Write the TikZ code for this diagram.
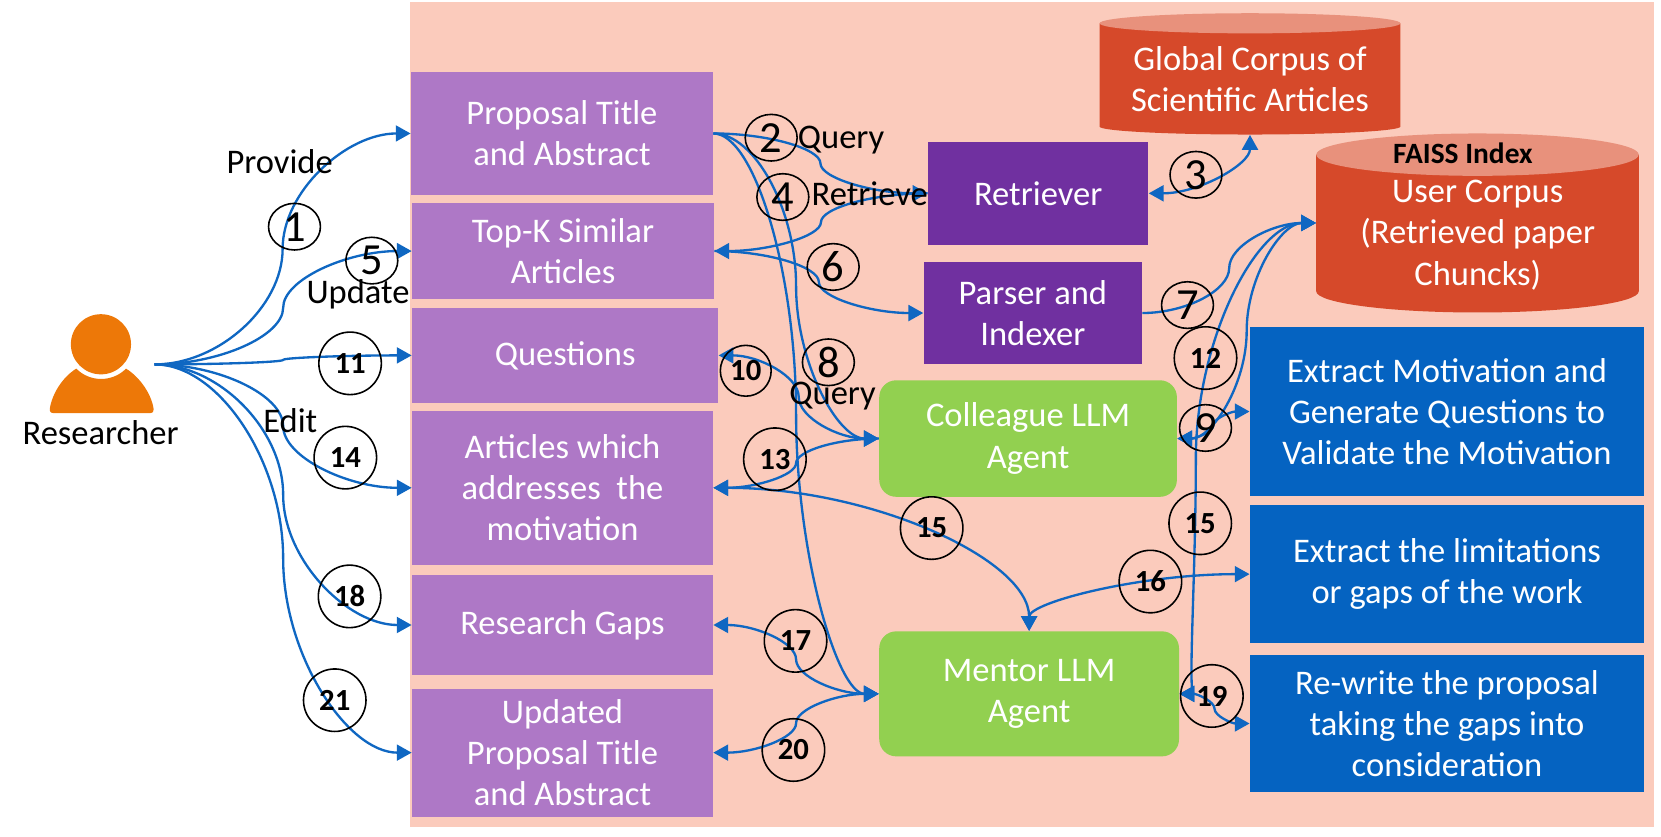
\documentclass[tikz,border=0pt]{standalone}
\usepackage{fontspec}
\setmainfont{Carlito}
\usetikzlibrary{arrows.meta,calc,shapes.geometric}
\definecolor{lineblue}{HTML}{0F67C2}
\definecolor{bgpink}{HTML}{FBCBBC}
\definecolor{lightpurple}{HTML}{AE78C6}
\definecolor{darkpurple}{HTML}{7030A0}
\definecolor{agentgreen}{HTML}{92D050}
\definecolor{taskblue}{HTML}{0563C1}
\definecolor{personorange}{HTML}{ED7808}
\definecolor{cylred}{HTML}{D6492A}
\definecolor{cyltop}{HTML}{E8917C}
\tikzset{
  link/.style={draw=lineblue,line width=1.1pt},
  tip/.style={link,-{Triangle[length=7pt,width=7.5pt]}},
  tips/.style={link,{Triangle[length=7pt,width=7.5pt]}-{Triangle[length=7pt,width=7.5pt]}},
  boxtext/.style={text=white,align=center,font=\fontsize{16.3}{19.5}\selectfont,inner sep=0pt},
  inputbox/.style={boxtext,fill=lightpurple},
  darkbox/.style={boxtext,fill=darkpurple},
  agentbox/.style={boxtext,fill=agentgreen,rounded corners=8pt},
  taskbox/.style={boxtext,fill=taskblue},
  biglabel/.style={font=\fontsize{16.3}{19}\selectfont,text=black,inner sep=0pt},
  thin num/.style={draw=black,line width=.75pt,ellipse,minimum width=24.5pt,minimum height=22pt,inner sep=0pt,font=\fontsize{21}{21}\selectfont},
  bold num/.style={draw=black,line width=.75pt,circle,minimum size=29.5pt,inner sep=0pt,font=\fontsize{14.5}{14.5}\selectfont\bfseries},
}
\newcommand{\conn}[4][tip]{%
  \coordinate (cm) at ($(#2)!#4!(#3)$);
  \coordinate (q1) at ($(#2)!.25!(#3)$);
  \coordinate (q2) at ($(#2)!.5!(#3)$);
  \coordinate (q3) at ($(#2)!.75!(#3)$);
  \draw[#1] (#2) .. controls ($(#2)!.5!(cm|-#2)$) and (cm|-q1) .. (cm|-q2)
    .. controls (cm|-q3) and ($(#3)!.5!(cm|-#3)$) .. (#3);}
\newcommand{\conc}[3][tips]{% horizontal start, vertical end
  \coordinate (cm) at ($(#2)!.5!(#3)$);
  \draw[#1] (#2) .. controls (cm|-#2) and (#3|-cm) .. (#3);}
\begin{document}
\begin{tikzpicture}[x=.5pt,y=-.5pt]
\useasboundingbox (0,0) rectangle (1568,790);
\fill[bgpink] (387,2) rectangle (1561,781);
% person
\fill[personorange] (95.3,325) circle[radius=14.2pt];
\fill[personorange] (72,348) .. controls (85,361) and (106,361) .. (119,348)
  .. controls (132,356) and (143,372) .. (145,386) .. controls (145,389) and (144,390) .. (141,390)
  -- (51,390) .. controls (48,390) and (47,389) .. (47,386)
  .. controls (49,372) and (59,356) .. (72,348) -- cycle;
\coordinate (res) at (146,344);
\node[biglabel] (reslabel) at (95,408) {Researcher};
% input boxes
\node[inputbox,minimum width=142.5pt,minimum height=58pt] (prop) at (530.5,126) {Proposal Title\\and Abstract};
\node[inputbox,minimum width=142.5pt,minimum height=45pt] (topk) at (531.5,237) {Top-K Similar\\Articles};
\node[inputbox,minimum width=144.5pt,minimum height=44.5pt] (ques) at (533.5,335.5) {Questions};
\node[inputbox,minimum width=142pt,minimum height=72.5pt] (art) at (531,460.5) {Articles which\\addresses\ \ the\\motivation};
\node[inputbox,minimum width=142pt,minimum height=47pt] (gaps) at (531,590) {Research Gaps};
\node[inputbox,minimum width=142pt,minimum height=60.5pt] (upd) at (531,710.5) {Updated\\Proposal Title\\and Abstract};
% dark boxes
\node[darkbox,minimum width=104pt,minimum height=48.5pt] (retr) at (980,182.5) {Retriever};
\node[darkbox,minimum width=103pt,minimum height=48.5pt] (pars) at (975,295.5) {Parser and\\Indexer};
% agents
\node[agentbox,minimum width=140.5pt,minimum height=55pt] (coll) at (970.5,414) {Colleague LLM\\Agent};
\node[agentbox,minimum width=141.5pt,minimum height=59pt] (ment) at (971.5,655) {Mentor LLM\\Agent};
% task boxes
\node[taskbox,minimum width=186pt,minimum height=79.5pt] (task1) at (1366,388.5) {Extract Motivation and\\Generate Questions to\\Validate the Motivation};
\node[taskbox,minimum width=186pt,minimum height=65pt] (task2) at (1366,542) {Extract the limitations\\or gaps of the work};
\node[taskbox,minimum width=186pt,minimum height=65pt] (task3) at (1366,683) {Re-write the proposal\\taking the gaps into\\consideration};
% cylinders
\fill[cylred] (1038,22) -- (1038,119.5) arc[start angle=180,end angle=0,x radius=142,y radius=7.5] -- (1322,22) -- cycle;
\fill[cyltop] (1180,22) ellipse[x radius=142,y radius=9.5];
\node[inner sep=0pt,minimum width=142pt,minimum height=57.5pt] (glob) at (1180,69.5) {};
\node[text=white,align=center,font=\fontsize{16.3}{19.5}\selectfont,inner sep=0pt] (globtext) at (1180,75) {Global Corpus of\\Scientific Articles};
\fill[cylred] (1242.5,146) -- (1242.5,275) arc[start angle=180,end angle=0,x radius=152.25,y radius=20] -- (1547,146) -- cycle;
\fill[cyltop] (1394.75,146) ellipse[x radius=152.25,y radius=20];
\node[inner sep=0pt,minimum width=152pt,minimum height=84.5pt] (user) at (1394.75,210.5) {};
\node[text=white,align=center,font=\fontsize{16.3}{19.5}\selectfont,inner sep=0pt] (usertext) at (1395,222) {User Corpus\\(Retrieved paper\\Chuncks)};
\node[font=\fontsize{13.9}{15}\selectfont\bfseries,inner sep=0pt] (faiss) at (1381,144.5) {FAISS Index};
% connectors from the researcher
\conn{res}{prop.west}{.5}
\conn{res}{topk.west}{.5}
\conn{res}{ques.west}{.5}
\conn{res}{art.west}{.5}
\conn{res}{gaps.west}{.5}
\conn{res}{upd.west}{.5}
% upper connectors
\conn{prop.east}{retr.west}{.5}
\conn{retr.west}{topk.east}{.5}
\conn{topk.east}{pars.west}{.5}
\conc{retr.east}{glob.south}
\conn{pars.east}{user.west}{.5}
\conn{prop.east}{coll.west}{.5}
\conn{prop.east}{ment.west}{.5}
\conn[tips]{coll.west}{ques.east}{.5}
\conn{coll.west}{art.east}{.5}
\conn[tips]{coll.east}{task1.west}{.5}
\conn[tips]{coll.east}{user.west}{.5}
\conn[tips]{user.west}{ment.east}{.88}
\conc{art.east}{ment.north}
\conc{task2.west}{ment.north}
\conn[tips]{ment.west}{gaps.east}{.5}
\conn[tips]{ment.west}{upd.east}{.5}
\conn[tips]{ment.east}{task3.west}{.5}
% numbers
\node[thin num] (n1) at (278,214) {1};
\node[thin num] (n2) at (728,130) {2};
\node[thin num] (n3) at (1129,165) {3};
\node[thin num] (n4) at (739,186) {4};
\node[thin num] (n5) at (351,246) {5};
\node[thin num] (n6) at (786.5,252) {6};
\node[thin num] (n7) at (1121,288) {7};
\node[thin num] (n8) at (782,342) {8};
\node[thin num] (n9) at (1138,404) {9};
\node[bold num,minimum size=24pt] (n10) at (704,350) {10};
\node[bold num] (n11) at (330.5,343) {11};
\node[bold num] (n12) at (1138,338) {12};
\node[bold num] (n13) at (731.5,433.5) {13};
\node[bold num] (n14) at (326,432) {14};
\node[bold num] (n15a) at (879.5,498.5) {15};
\node[bold num] (n15b) at (1133,494) {15};
\node[bold num] (n16) at (1086,549) {16};
\node[bold num] (n17) at (751,605) {17};
\node[bold num] (n18) at (330,563) {18};
\node[bold num] (n19) at (1144,657) {19};
\node[bold num] (n20) at (749,708) {20};
\node[bold num] (n21) at (316,661) {21};
% labels
\node[biglabel] (lprovide) at (264,153) {Provide};
\node[biglabel] (lquery1) at (794,132) {Query};
\node[biglabel] (lretrieve) at (821,183) {Retrieve};
\node[biglabel] (lupdate) at (338,278) {Update};
\node[biglabel] (lquery2) at (786,374) {Query};
\node[biglabel] (ledit) at (274,397) {Edit};
\end{tikzpicture}
\end{document}
